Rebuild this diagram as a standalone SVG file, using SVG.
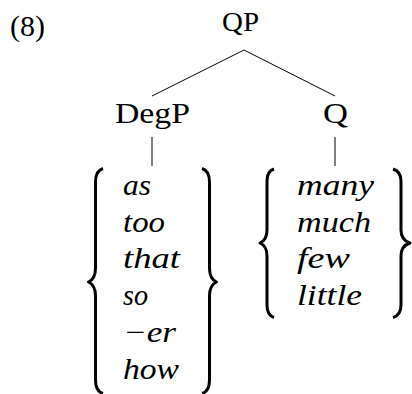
<svg xmlns="http://www.w3.org/2000/svg" width="412" height="394" viewBox="0 0 412 394">
<style>
text{font-family:'Liberation Serif','DejaVu Serif',serif;fill:#000}
.it{font-style:italic;font-size:29px}
.edge{stroke:#000;stroke-width:1;fill:none}
.brace{stroke:#000;stroke-width:3;fill:none;stroke-linejoin:round}
</style>
<rect width="412" height="394" fill="#fff"/>
<text font-family="Liberation Serif, DejaVu Serif, serif" x="10" y="36" font-size="30" textLength="35" lengthAdjust="spacingAndGlyphs">(8)</text>
<g id="connectors">
<line class="edge" x1="244" y1="50" x2="152" y2="96"/>
<line class="edge" x1="244" y1="50" x2="335" y2="96"/>
<line class="edge" x1="152" y1="137" x2="152" y2="166"/>
<line class="edge" x1="335" y1="137" x2="335" y2="166"/>
</g>
<g id="QP"><text font-family="Liberation Serif, DejaVu Serif, serif" x="222" y="31" font-size="27" textLength="37" lengthAdjust="spacingAndGlyphs">QP</text></g>
<g id="DegP"><text font-family="Liberation Serif, DejaVu Serif, serif" x="115" y="123" font-size="30" textLength="75" lengthAdjust="spacingAndGlyphs">DegP</text></g>
<g id="Q"><text font-family="Liberation Serif, DejaVu Serif, serif" x="323" y="123" font-size="30" textLength="25" lengthAdjust="spacingAndGlyphs">Q</text></g>
<g id="DegSet" font-family="Liberation Serif, DejaVu Serif, serif">
<path class="brace" d="M103,168.5 C98,170 95.5,174 95.5,182 L95.5,268 C95.5,276 93,280 88.5,282 C93,284 95.5,288 95.5,296 L95.5,380 C95.5,388 98,392 103,393.5"/>
<path class="brace" d="M202,168.5 C207,170 209.5,174 209.5,182 L209.5,268 C209.5,276 212,280 216.5,282 C212,284 209.5,288 209.5,296 L209.5,380 C209.5,388 207,392 202,393.5"/>
<text class="it" x="123" y="195" textLength="28" lengthAdjust="spacingAndGlyphs">as</text>
<text class="it" x="123" y="232" textLength="42" lengthAdjust="spacingAndGlyphs">too</text>
<text class="it" x="123" y="268" textLength="57" lengthAdjust="spacingAndGlyphs">that</text>
<text class="it" x="123" y="305" textLength="25" lengthAdjust="spacingAndGlyphs">so</text>
<text class="it" x="123" y="342" textLength="53" lengthAdjust="spacingAndGlyphs">−er</text>
<text class="it" x="123" y="379" textLength="56" lengthAdjust="spacingAndGlyphs">how</text>
</g>
<g id="QSet" font-family="Liberation Serif, DejaVu Serif, serif">
<path class="brace" d="M274,169 C269,170.5 267,174 267,181 L267,230 C267,237 264.5,241 260,243 C264.5,245 267,249 267,256 L267,305 C267,312 269,316 274,317.5"/>
<path class="brace" d="M393,169 C398,170.5 401,174 401,181 L401,230 C401,237 403.5,241 410,243 C403.5,245 401,249 401,256 L401,305 C401,312 398,316 393,317.5"/>
<text class="it" x="297" y="195" textLength="77" lengthAdjust="spacingAndGlyphs">many</text>
<text class="it" x="297" y="232" textLength="74" lengthAdjust="spacingAndGlyphs">much</text>
<text class="it" x="297" y="268" textLength="53" lengthAdjust="spacingAndGlyphs">few</text>
<text class="it" x="297" y="305" textLength="65" lengthAdjust="spacingAndGlyphs">little</text>
</g>
</svg>
